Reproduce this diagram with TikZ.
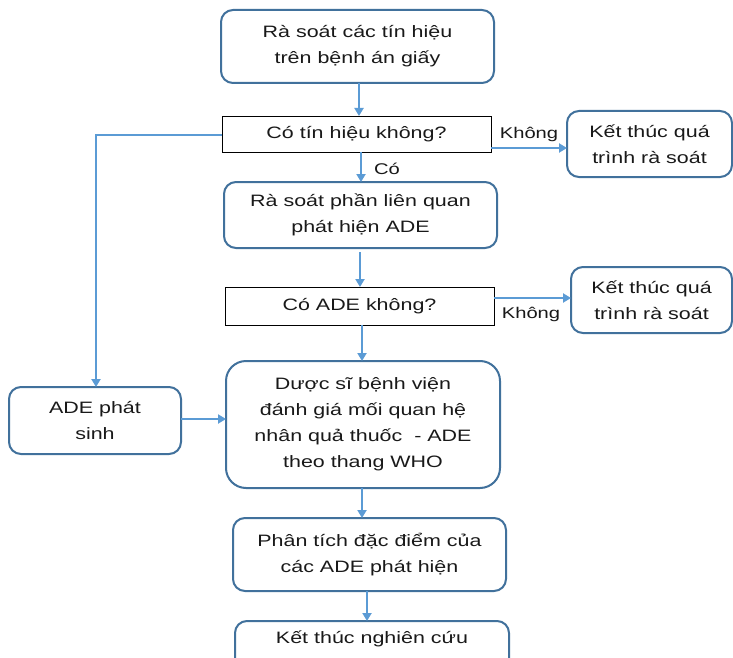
\documentclass[tikz,border=0pt]{standalone}
\usepackage{fontspec}
\setmainfont{Liberation Sans}[FakeStretch=1.3]
\usetikzlibrary{arrows.meta}
\definecolor{boxblue}{HTML}{41719C}
\definecolor{arrblue}{HTML}{5B9BD5}
\begin{document}
\begin{tikzpicture}[x=1pt,y=-1pt,
  proc/.style={draw=boxblue,line width=2pt,rounded corners=12pt,align=center,
    inner sep=0pt,outer sep=0pt,text=black!90,font=\fontsize{16.5}{26}\selectfont},
  dec/.style={draw=black,line width=0.9pt,align=center,inner sep=0pt,outer sep=0pt,
    text=black!90,font=\fontsize{16.5}{26}\selectfont},
  arr/.style={draw=arrblue,line width=2pt,-{Triangle[length=8pt,width=9pt]}},
  lbl/.style={font=\fontsize{15.5}{18}\selectfont,inner sep=0pt,text=black!90}]
\useasboundingbox (0,0) rectangle (733,658);
\fill[white] (0,0) rectangle (733,658);
% nodes
\node[proc,minimum width=273pt,minimum height=73pt] (b1) at (357.5,46.5) {Rà soát các tín hiệu\\trên bệnh án giấy};
\node[dec,minimum width=269pt,minimum height=36pt] (d1) at (356.5,134) {Có tín hiệu không?};
\node[proc,minimum width=165pt,minimum height=66pt] (e1) at (649.5,144) {Kết thúc quá\\trình rà soát};
\node[proc,minimum width=273pt,minimum height=66pt] (b2) at (360.5,215) {Rà soát phần liên quan\\phát hiện ADE};
\node[dec,minimum width=269pt,minimum height=38pt] (d2) at (359.5,306) {Có ADE không?};
\node[proc,minimum width=161pt,minimum height=66pt] (e2) at (651.5,300) {Kết thúc quá\\trình rà soát};
\node[proc,rounded corners=20pt,minimum width=274pt,minimum height=127pt] (b3) at (363,424.5) {Dược sĩ bệnh viện\\đánh giá mối quan hệ\\nhân quả thuốc\ \ - ADE\\theo thang WHO};
\node[proc,minimum width=172pt,minimum height=67pt] (a) at (95,420.5) {ADE phát\\sinh};
\node[proc,minimum width=273pt,minimum height=73pt] (b4) at (369.5,554.5) {Phân tích đặc điểm của\\các ADE phát hiện};
\node[proc,minimum width=274pt,minimum height=66pt] (b5) at (372,654) {Kết thúc nghiên cứu\\\strut};
% connectors
\coordinate (corner) at (96,135);
\draw[arr] (b1.south -| 359,0) -- (d1.north -| 359,0);
\draw[arr] (d1.west |- corner) -- (corner) -- (a.north -| corner);
\draw[arr] (d1.east |- 0,148) -- (e1.west |- 0,148);
\draw[arr] (d1.south -| 361,0) -- (b2.north -| 361,0);
\draw[arr] ([yshift=-4pt]b2.south -| 360,0) -- (d2.north -| 360,0);
\draw[arr] (d2.east |- 0,298) -- (e2.west |- 0,298);
\draw[arr] (d2.south -| 362,0) -- (b3.north -| 362,0);
\draw[arr] (a.east |- 0,419) -- (b3.west |- 0,419);
\draw[arr] (b3.south -| 362,0) -- (b4.north -| 362,0);
\draw[arr] (b4.south -| 367,0) -- (b5.north -| 367,0);
% labels
\node[lbl] (l1) at (529,134) {Không};
\node[lbl] (l2) at (387,169) {Có};
\node[lbl] (l3) at (531,314) {Không};
\end{tikzpicture}
\end{document}
